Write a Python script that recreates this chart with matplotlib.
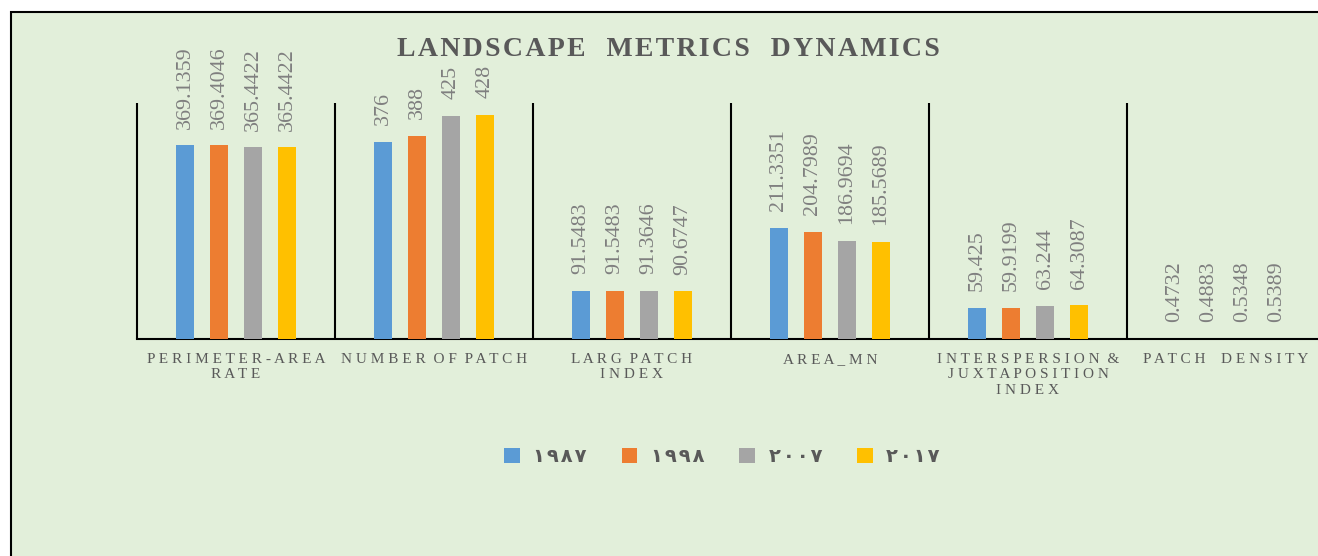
import numpy as np
import matplotlib.pyplot as plt
from matplotlib.patches import Rectangle

# data
categories = ["PERIMETER-AREA\nRATE", "NUMBER OF PATCH", "LARG PATCH\nINDEX",
              "AREA_MN", "INTERSPERSION &\nJUXTAPOSITION\nINDEX", "PATCH  DENSITY"]
years = ["١٩٨٧", "١٩٩٨", "٢٠٠٧", "٢٠١٧"]
v1987 = [369.1359, 376, 91.5483, 211.3351, 59.425, 0.4732]
v1998 = [369.4046, 388, 91.5483, 204.7989, 59.9199, 0.4883]
v2007 = [365.4422, 425, 91.3646, 186.9694, 63.244, 0.5348]
v2017 = [365.4422, 428, 90.6747, 185.5689, 64.3087, 0.5389]
series = [v1987, v1998, v2007, v2017]
colors = ["#5B9BD5", "#ED7D31", "#A5A5A5", "#FFC000"]

W, H = 1318, 556


def spaced(s, gap=" ", wgap="  "):
    # fake letter spacing
    lines = []
    for line in s.split("\n"):
        words = [gap.join(w) for w in line.split(" ")]
        lines.append(wgap.join(words))
    return "\n".join(lines)


def fmt(v):
    return ("%.4f" % v).rstrip("0").rstrip(".")


fig = plt.figure(figsize=(W / 100, H / 100), dpi=100)
fig.patch.set_facecolor("white")
fig.patches.append(Rectangle((11 / W, -0.1), 1.1, 1.1 - 12 / H,
                             transform=fig.transFigure, facecolor="#E2EFDA",
                             edgecolor="black", lw=1.5, zorder=-5))

ax = fig.add_axes([137 / W, (H - 339) / H, 1188 / W, 236 / H])
ax.set_facecolor("none")
ax.set_xlim(-0.5, 5.5)
ax.set_ylim(0, 450)

x = np.arange(len(categories))
for i, (vals, c) in enumerate(zip(series, colors)):
    xs = x + (i - 1.5) * 0.172
    ax.bar(xs, vals, width=0.092, color=c, label=years[i], zorder=3)
    for xi, v in zip(xs, vals):
        ax.annotate(fmt(v), xy=(xi, v), xytext=(0, 12), textcoords="offset points",
                    rotation=90, ha="center", va="bottom", fontsize=15.8,
                    color="#7F7F7F", family="Liberation Serif")

ax.vlines(np.arange(-0.5, 6, 1), 0, 450, color="black", lw=1.5, clip_on=False)
for s in ["top", "right", "left"]:
    ax.spines[s].set_visible(False)
ax.spines["bottom"].set_linewidth(1.5)
ax.set_yticks([])
ax.set_xticks(x)
ax.set_xticklabels([spaced(c) for c in categories], fontsize=11, color="#595959",
                   family="Liberation Serif", linespacing=1.25)
ax.tick_params(axis="x", length=0, pad=10)

fig.text(668 / W, 1 - 50 / H, spaced("LANDSCAPE METRICS DYNAMICS", "\u200a", "   "),
         ha="center", va="center", fontsize=20, weight="bold", color="#595959",
         family="Liberation Serif")

fig.legend(loc="center", bbox_to_anchor=(722 / W, 1 - 457 / H), ncol=4,
           frameon=False, handlelength=0.8, handleheight=0.8, columnspacing=1.8,
           handletextpad=0.7, prop={"family": "DejaVu Sans", "size": 14, "weight": "bold"},
           labelcolor="#595959",
           labels=[spaced(y, "\u200a") for y in years],
           handles=ax.containers)

fig.savefig("out.png", dpi=100)
